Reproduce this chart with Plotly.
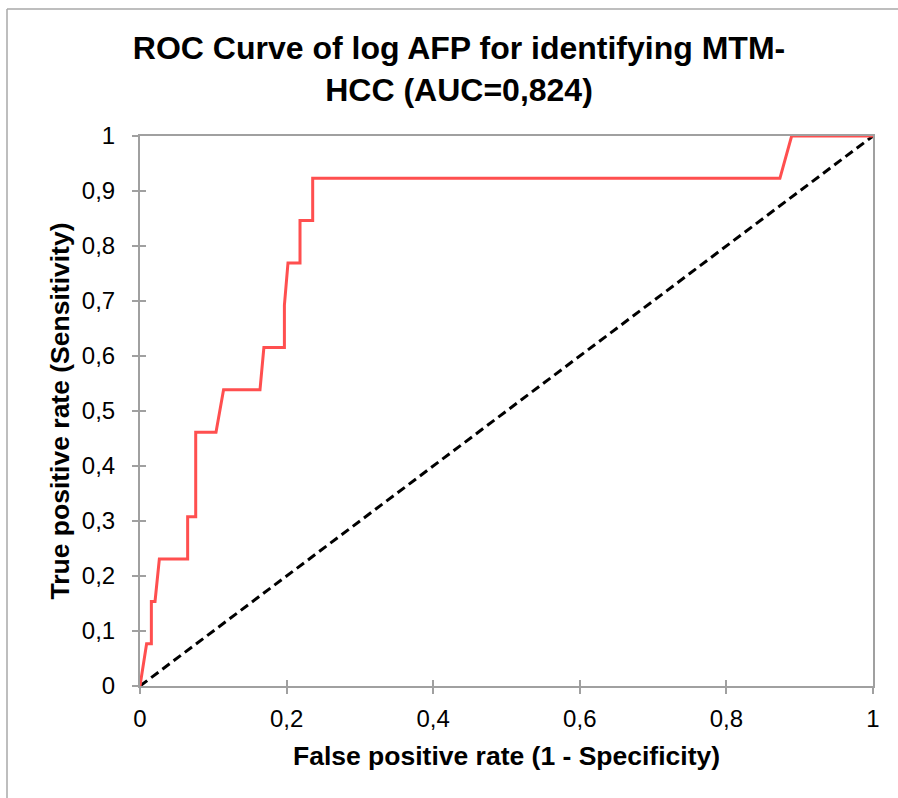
import plotly.graph_objects as go

# ROC curve points (FPR, TPR)
fpr = [0.0, 0.009, 0.0155, 0.0155, 0.0205, 0.0264, 0.065, 0.065, 0.076, 0.076,
       0.1037, 0.114, 0.1637, 0.169, 0.197, 0.197, 0.2019, 0.2183, 0.2183,
       0.2356, 0.2356, 0.873, 0.889, 1.0]
tpr = [0.0, 0.0769, 0.0769, 0.1538, 0.1538, 0.2308, 0.2308, 0.3077, 0.3077, 0.4615,
       0.4615, 0.5385, 0.5385, 0.6154, 0.6154, 0.6923, 0.7692, 0.7692, 0.8462,
       0.8462, 0.9231, 0.9231, 1.0, 1.0]
diag_x = [0.0, 1.0]
diag_y = [0.0, 1.0]

x_ticks = [0, 0.2, 0.4, 0.6, 0.8, 1]
x_labels = ["0", "0,2", "0,4", "0,6", "0,8", "1"]
y_ticks = [0, 0.1, 0.2, 0.3, 0.4, 0.5, 0.6, 0.7, 0.8, 0.9, 1]
y_labels = ["0", "0,1", "0,2", "0,3", "0,4", "0,5", "0,6", "0,7", "0,8", "0,9", "1"]

title = "ROC Curve of log AFP for identifying MTM-<br>HCC (AUC=0,824)"
x_title = "False positive rate (1 - Specificity)"
y_title = "True positive rate (Sensitivity)"

FONT = "Liberation Sans, Arial, sans-serif"
AXC = "#a0a0a0"

fig = go.Figure()
fig.add_trace(go.Scatter(x=diag_x, y=diag_y, mode="lines",
                         line=dict(color="black", width=3, dash="9px,5px"),
                         hoverinfo="skip", showlegend=False))
fig.add_trace(go.Scatter(x=fpr, y=tpr, mode="lines",
                         line=dict(color="#ff4f4f", width=3),
                         showlegend=False))
# helper trace for inner half of crossing ticks
fig.add_trace(go.Scatter(x=[None], y=[None], xaxis="x2", yaxis="y2",
                         showlegend=False, hoverinfo="skip"))

W, H = 898, 798
L, R, T, B = 140, 25, 136, 112
pw, ph = W - L - R, H - T - B

fig.update_layout(
    width=W, height=H,
    margin=dict(l=L, r=R, t=T, b=B),
    paper_bgcolor="white", plot_bgcolor="white",
    font=dict(family=FONT, color="black", size=24),
    title=dict(text="<b>" + title + "</b>", x=459 / W, xref="container", xanchor="center",
               y=1 - 59 / H, yanchor="middle",
               font=dict(family=FONT, size=32, color="black")),
    xaxis=dict(range=[0, 1], tickvals=x_ticks, ticktext=x_labels,
               showgrid=False, zeroline=False, showline=True, linecolor=AXC,
               linewidth=2, mirror=True, ticks="outside", ticklen=6,
               tickcolor=AXC, tickwidth=1.5, ticklabelstandoff=4,
               tickfont=dict(family=FONT, size=24),
               title=dict(text="<b>" + x_title + "</b>", standoff=16,
                          font=dict(family=FONT, size=26.5))),
    yaxis=dict(range=[0, 1], tickvals=y_ticks, ticktext=y_labels,
               showgrid=False, zeroline=False, showline=True, linecolor=AXC,
               linewidth=2, mirror=True, ticks="outside", ticklen=6,
               tickcolor=AXC, tickwidth=1.5, ticklabelstandoff=12,
               tickfont=dict(family=FONT, size=24),
               title=dict(text="<b>" + y_title + "</b>", standoff=5,
                          font=dict(family=FONT, size=26.5))),
    xaxis2=dict(overlaying="x", anchor="y", matches="x", range=[0, 1],
                tickvals=x_ticks, showticklabels=False, ticks="inside",
                ticklen=6, tickcolor=AXC, tickwidth=1.5, showgrid=False,
                zeroline=False, showline=False, side="bottom"),
    yaxis2=dict(overlaying="y", anchor="x", matches="y", range=[0, 1],
                tickvals=y_ticks, showticklabels=False, ticks="inside",
                ticklen=6, tickcolor=AXC, tickwidth=1.5, showgrid=False,
                zeroline=False, showline=False, side="left"),
)

# outer chart-area border (left and top edges visible in the reference)
bx0 = (7 - L) / pw
by1 = (H - B - 9) / ph
by0 = -(B + 5) / ph
bx1 = (W - L + 5) / pw
fig.add_shape(type="line", xref="paper", yref="paper", x0=bx0, x1=bx0, y0=by0, y1=by1,
              line=dict(color="#a8a8a8", width=1.5))
fig.add_shape(type="line", xref="paper", yref="paper", x0=bx0, x1=bx1, y0=by1, y1=by1,
              line=dict(color="#a8a8a8", width=1.5))

fig.write_html("out.html", config={"displayModeBar": False},
               post_script="document.body.style.margin='0';document.body.style.overflow='hidden';")
